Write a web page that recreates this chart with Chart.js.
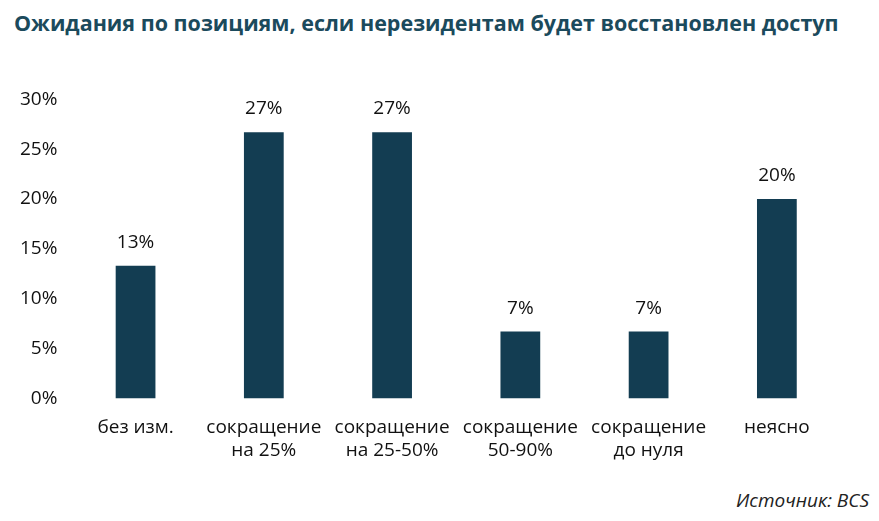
<!DOCTYPE html>
<html>
<head>
<meta charset="utf-8">
<script src="https://cdn.jsdelivr.net/npm/chart.js@4"></script>
<style>
  body { margin: 0; background: #fff; font-family: "Open Sans", sans-serif; }
  #wrap { position: relative; width: 879px; height: 521px; }
  h1 { position: absolute; left: 14px; top: 8px; margin: 0; font-size: 21.5px; font-weight: bold; color: #1b4a5c; font-family: "Open Sans", sans-serif; }
  #src { position: absolute; right: 10px; bottom: 8px; font-style: italic; font-size: 19px; color: #222; }
  #box { position: absolute; left: 0; top: 82px; width: 879px; height: 390px; }
</style>
</head>
<body>
<div id="wrap">
  <h1>Ожидания по позициям, если нерезидентам будет восстановлен доступ</h1>
  <div id="box"><canvas id="c"></canvas></div>
  <div id="src">Источник: BCS</div>
</div>
<script>
// Категории и значения (доля ответов, %)
const categories = [
  ['без изм.'],
  ['сокращение', 'на 25%'],
  ['сокращение', 'на 25-50%'],
  ['сокращение', '50-90%'],
  ['сокращение', 'до нуля'],
  ['неясно']
];
const values = [13.3, 26.7, 26.7, 6.7, 6.7, 20];
const yTicks = [0, 5, 10, 15, 20, 25, 30];

// подписи над столбцами
const barLabels = {
  id: 'barLabels',
  afterDatasetsDraw(chart) {
    const ctx = chart.ctx;
    const meta = chart.getDatasetMeta(0);
    ctx.save();
    ctx.font = '19px "Open Sans", sans-serif';
    ctx.fillStyle = '#111';
    ctx.textAlign = 'center';
    ctx.textBaseline = 'bottom';
    meta.data.forEach((bar, i) => {
      ctx.fillText(Math.round(values[i]) + '%', bar.x, bar.y - 14);
    });
    ctx.restore();
  }
};

new Chart(document.getElementById('c'), {
  type: 'bar',
  data: {
    labels: categories,
    datasets: [{
      data: values,
      backgroundColor: '#133d52',
      barPercentage: 0.62,
      categoryPercentage: 0.5
    }]
  },
  options: {
    responsive: true,
    maintainAspectRatio: false,
    animation: false,
    layout: { padding: { left: 14, right: 38, top: 12 } },
    plugins: { legend: { display: false }, tooltip: { enabled: false } },
    scales: {
      y: {
        min: 0, max: 30,
        afterBuildTicks: (ax) => { ax.ticks = yTicks.map(v => ({ value: v })); },
        grid: { display: false },
        border: { display: false },
        ticks: { color: '#111', font: { size: 19, family: '"Open Sans", sans-serif' }, callback: v => v + '%', padding: 6 }
      },
      x: {
        grid: { display: false },
        border: { display: false },
        ticks: { color: '#111', font: { size: 19, family: '"Open Sans", sans-serif' }, maxRotation: 0, padding: 10 }
      }
    }
  },
  plugins: [barLabels]
});
</script>
</body>
</html>
